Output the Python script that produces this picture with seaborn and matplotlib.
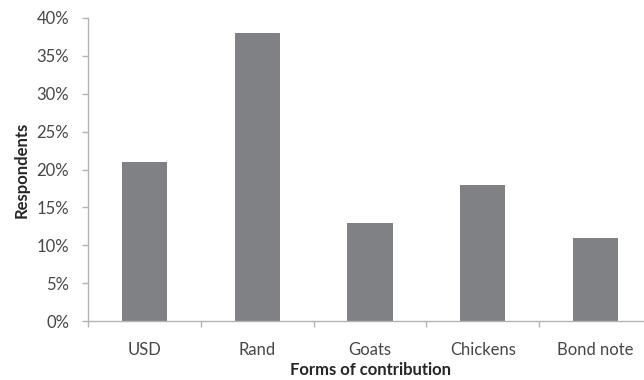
import matplotlib
matplotlib.use("Agg")
import matplotlib.pyplot as plt
from matplotlib.ticker import FixedLocator, PercentFormatter
import seaborn as sns
import pandas as pd
import numpy as np

categories = ["USD", "Rand", "Goats", "Chickens", "Bond note"]
respondents = [21, 38, 13, 18, 11]
y_ticks = [0, 5, 10, 15, 20, 25, 30, 35, 40]

sns.set_theme(style="white")
plt.rcParams["font.family"] = ["Lato", "DejaVu Sans"]

df = pd.DataFrame({"form": categories, "share": respondents})

fig = plt.figure(figsize=(6.44, 3.80), dpi=100)
ax = fig.add_axes([88 / 644, (380 - 321) / 380, (652 - 88) / 644, (321 - 18) / 380])

sns.barplot(data=df, x="form", y="share", color="#808184", width=0.4,
            saturation=1, edgecolor="none", ax=ax)

axis_grey = "#b4b4b4"
text_grey = "#474747"
tick_size = 12

ax.set_xlim(-0.5, len(categories) - 0.5)
ax.set_ylim(0, 40)
ax.yaxis.set_major_locator(FixedLocator(y_ticks))
ax.yaxis.set_major_formatter(PercentFormatter(decimals=0))

# category boundaries carry the tick marks, labels sit at bar centres
ax.xaxis.set_major_locator(FixedLocator(np.arange(-0.5, len(categories), 1.0)))
ax.xaxis.set_minor_locator(FixedLocator(np.arange(len(categories))))
ax.set_xticklabels([""] * len(ax.get_xticks()))
ax.set_xticklabels(categories, minor=True)
ax.tick_params(axis="x", which="major", direction="out", length=4.5, width=1, color=axis_grey, bottom=True)
ax.tick_params(axis="x", which="minor", length=0, pad=15, labelsize=tick_size, labelcolor=text_grey)
ax.tick_params(axis="y", direction="out", length=4.5, width=1, color=axis_grey, left=True,
               labelsize=tick_size, labelcolor=text_grey, pad=9)

for side in ["top", "right"]:
    ax.spines[side].set_visible(False)
for side in ["left", "bottom"]:
    ax.spines[side].set_color(axis_grey)
    ax.spines[side].set_linewidth(1)

ax.set_ylabel("Respondents", fontsize=12, fontweight="bold", color="#262626", labelpad=5)
ax.set_xlabel("Forms of contribution", fontsize=12, fontweight="bold", color="#262626", labelpad=3)

fig.savefig("out.png", dpi=100)
